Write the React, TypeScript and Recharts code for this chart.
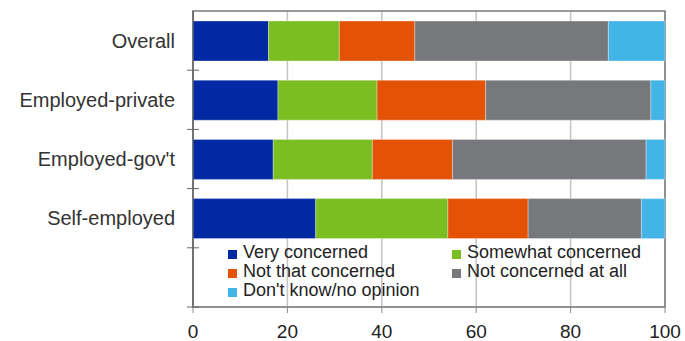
import { BarChart, Bar, XAxis, YAxis, CartesianGrid, Legend, ReferenceArea } from 'recharts';

// survey groups; the last empty slot leaves room for the legend
const groups = ['Overall', 'Employed-private', "Employed-gov't", 'Self-employed', ''];

const veryConcerned = [16, 18, 17, 26];
const somewhatConcerned = [15, 21, 21, 28];
const notThatConcerned = [16, 23, 17, 17];
const notConcernedAtAll = [41, 35, 41, 24];
const dontKnow = [12, 3, 4, 5];

const xTicks = [0, 20, 40, 60, 80, 100];

const series = [
  { key: 'very', label: 'Very concerned', color: '#0029a3', values: veryConcerned },
  { key: 'somewhat', label: 'Somewhat concerned', color: '#7bbe21', values: somewhatConcerned },
  { key: 'notThat', label: 'Not that concerned', color: '#e35205', values: notThatConcerned },
  { key: 'notAtAll', label: 'Not concerned at all', color: '#76787b', values: notConcernedAtAll },
  { key: 'dontKnow', label: "Don't know/no opinion", color: '#42b4e6', values: dontKnow },
];

const data = groups.map((name, i) => {
  const row: Record<string, string | number | undefined> = { name };
  series.forEach(s => {
    row[s.key] = s.values[i];
  });
  return row;
});

const FONT = '"Liberation Sans", Arial, sans-serif';
const WIDTH = 685;
const HEIGHT = 341;
const MARGIN = { top: 11, right: 20, bottom: 0, left: 0 };
const X_AXIS_HEIGHT = 34;
const BAND = (HEIGHT - MARGIN.top - MARGIN.bottom - X_AXIS_HEIGHT) / groups.length;

// category label plus a cross tick on the boundary below each band
function GroupTick(props: any) {
  const { x, y, payload } = props;
  const axisX = x + 8;
  const boundary = y + BAND / 2;
  return (
    <g>
      <text
        x={axisX - 18}
        y={y}
        dy="0.355em"
        textAnchor="end"
        fill="#333"
        fontSize={20}
        fontFamily={FONT}
      >
        {payload.value}
      </text>
      <line x1={axisX - 6} x2={axisX + 6} y1={boundary} y2={boundary} stroke="#666" strokeWidth={1} />
    </g>
  );
}

function LegendBox() {
  return (
    <div
      style={{
        display: 'flex',
        flexWrap: 'wrap',
        width: 448,
        fontFamily: FONT,
        fontSize: 18,
        lineHeight: '19px',
        color: '#222',
      }}
    >
      {series.map(s => (
        <div key={s.key} style={{ width: 224, display: 'flex', alignItems: 'flex-start' }}>
          <span
            style={{
              width: 9,
              height: 9,
              marginTop: 7,
              marginRight: 6,
              background: s.color,
              flex: 'none',
            }}
          />
          <span style={{ whiteSpace: 'nowrap' }}>{s.label}</span>
        </div>
      ))}
    </div>
  );
}

export default function App() {
  return (
    <div style={{ position: 'absolute', left: 0, top: 0, background: '#fff' }}>
      <BarChart width={WIDTH} height={HEIGHT} data={data} layout="vertical" margin={MARGIN}>
        <CartesianGrid horizontal={false} stroke="#c4c4c4" strokeWidth={1.5} />
        <ReferenceArea x1={0} x2={100} fill="none" stroke="#7a7a7a" strokeWidth={1.5} />
        <XAxis
          type="number"
          domain={[0, 100]}
          ticks={xTicks}
          height={X_AXIS_HEIGHT}
          tickMargin={12}
          stroke="#8a8a8a"
          tick={{ fill: '#222', fontSize: 19, fontFamily: FONT }}
        />
        <YAxis
          type="category"
          dataKey="name"
          width={193}
          tickLine={false}
          stroke="#555"
          tick={<GroupTick />}
          interval={0}
        />
        <Legend
          layout="horizontal"
          verticalAlign="middle"
          align="center"
          content={<LegendBox />}
          wrapperStyle={{ left: 228, top: 243, width: 448 }}
        />
        {series.map(s => (
          <Bar
            key={s.key}
            dataKey={s.key}
            stackId="all"
            fill={s.color}
            barSize={40}
            stroke="#ffffff"
            strokeOpacity={0.4}
            strokeWidth={0.8}
            isAnimationActive={false}
          />
        ))}
      </BarChart>
    </div>
  );
}
